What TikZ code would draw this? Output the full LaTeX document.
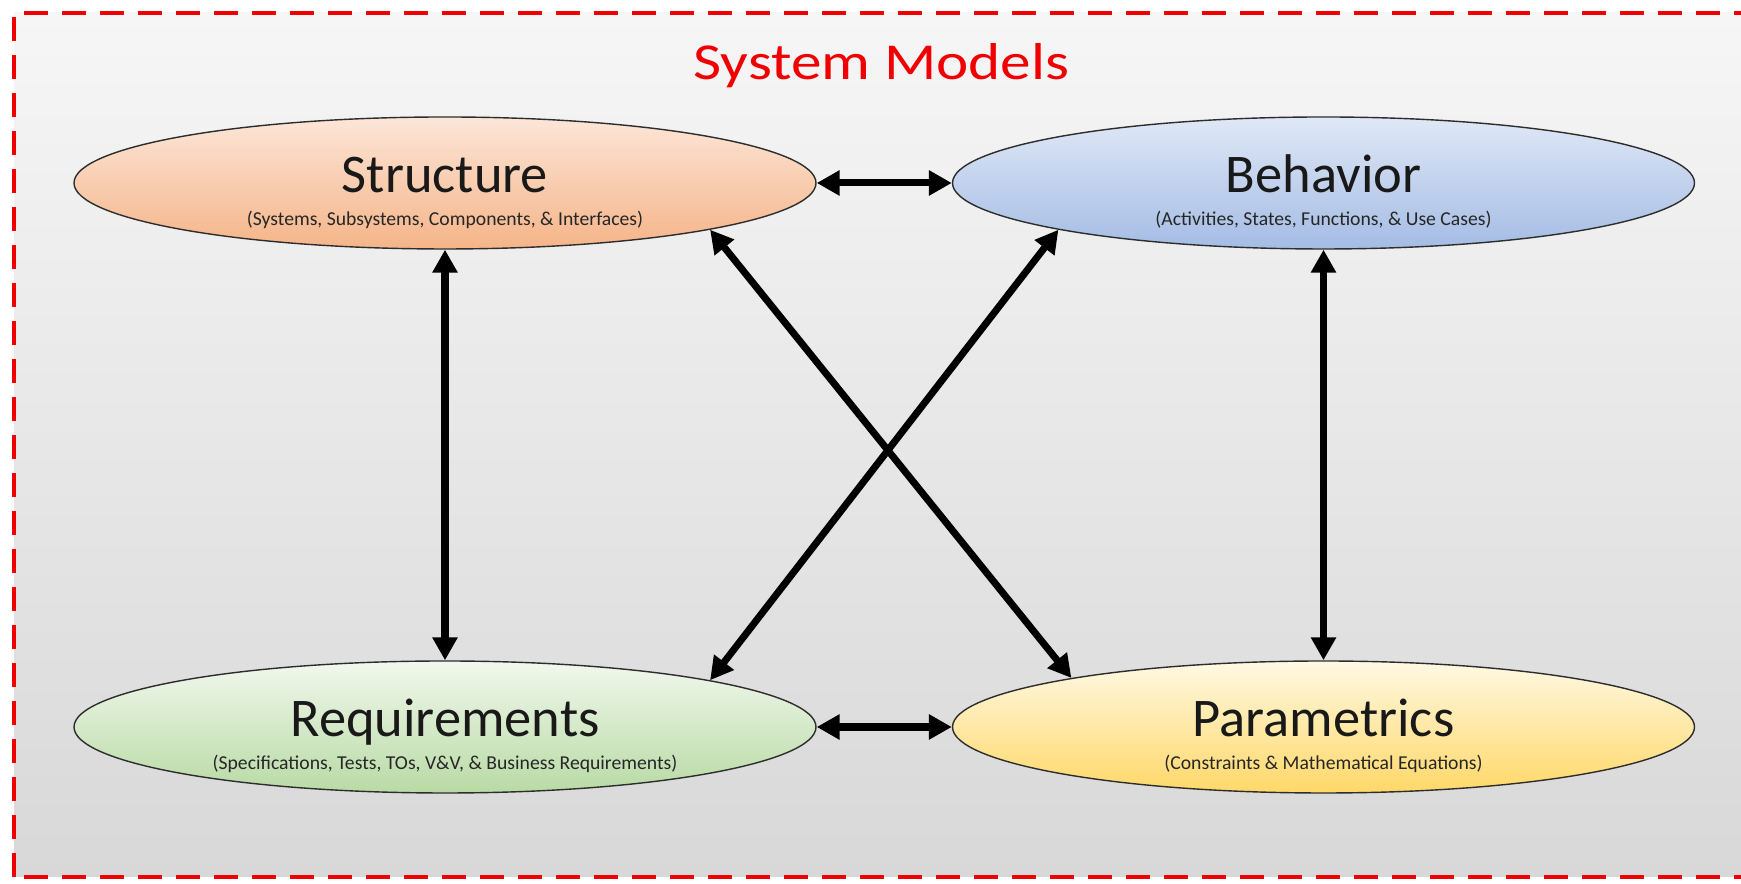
\documentclass[tikz,border=0pt]{standalone}
\usepackage{fontspec}
\setmainfont{Carlito}
\usetikzlibrary{shapes.geometric,arrows.meta}

\definecolor{framered}{RGB}{240,0,0}
\definecolor{bgtop}{RGB}{246,246,246}
\definecolor{bgbottom}{RGB}{216,216,216}
\definecolor{ringgray}{RGB}{45,45,45}
\definecolor{structtop}{RGB}{252,230,216}
\definecolor{structbot}{RGB}{245,180,136}
\definecolor{behavtop}{RGB}{224,232,246}
\definecolor{behavbot}{RGB}{164,188,228}
\definecolor{reqtop}{RGB}{242,248,238}
\definecolor{reqbot}{RGB}{184,218,164}
\definecolor{paramtop}{RGB}{255,249,228}
\definecolor{parambot}{RGB}{255,216,104}

\begin{document}
\begin{tikzpicture}[
    model/.style={ellipse, draw=ringgray, line width=0.8pt, inner sep=0pt,
        minimum width=14.84cm, minimum height=2.64cm},
    head/.style={anchor=base, text=black!90, font=\fontsize{31}{31}\selectfont},
    sub/.style={anchor=base, text=black!85, font=\fontsize{11.2}{11.2}\selectfont},
    link/.style={line width=4pt,
        {Triangle[length=13pt,width=13.6pt]}-{Triangle[length=13pt,width=13.6pt]}}
]
    \useasboundingbox (0,0) rectangle (34.82,17.68);
    \clip (0,0) rectangle (34.82,17.68);

    % frame
    \shade[top color=bgtop, bottom color=bgbottom] (0.28,0.14) rectangle (35.4,17.42);
    \draw[framered, line width=2.8pt, dash pattern=on 0.48cm off 0.28cm] (0.28,0.14) rectangle (35.4,17.42);
    \node[anchor=base, text=framered, font=\fontsize{29.5}{29.5}\selectfont] (title) at (17.63,16.08) {\scalebox{1.18}[1]{System Models}};

    % the four models
    \node[model, top color=structtop, bottom color=structbot] (struct) at (8.9,14.02) {};
    \node[model, top color=behavtop, bottom color=behavbot] (behav) at (26.47,14.02) {};
    \node[model, top color=reqtop, bottom color=reqbot] (req) at (8.9,3.14) {};
    \node[model, top color=paramtop, bottom color=parambot] (param) at (26.47,3.14) {};

    \node[head] (struct-h) at ([yshift=-0.2cm]struct.center) {Structure};
    \node[sub] (struct-s) at ([yshift=-0.86cm]struct.center) {(Systems, Subsystems, Components, \& Interfaces)};
    \node[head] (behav-h) at ([yshift=-0.2cm]behav.center) {Behavior};
    \node[sub] (behav-s) at ([yshift=-0.86cm]behav.center) {(Activities, States, Functions, \& Use Cases)};
    \node[head] (req-h) at ([yshift=-0.2cm]req.center) {Requirements};
    \node[sub] (req-s) at ([yshift=-0.86cm]req.center) {(Specifications, Tests, TOs, V\&V, \& Business Requirements)};
    \node[head] (param-h) at ([yshift=-0.2cm]param.center) {Parametrics};
    \node[sub] (param-s) at ([yshift=-0.86cm]param.center) {(Constraints \& Mathematical Equations)};

    % links
    \draw[link] (struct) -- (behav);
    \draw[link] (req) -- (param);
    \draw[link] (struct) -- (req);
    \draw[link] (behav) -- (param);
    \draw[link] (struct.-10.5) -- (param.169.5);
    \draw[link] (behav.190.5) -- (req.10.5);
\end{tikzpicture}
\end{document}
